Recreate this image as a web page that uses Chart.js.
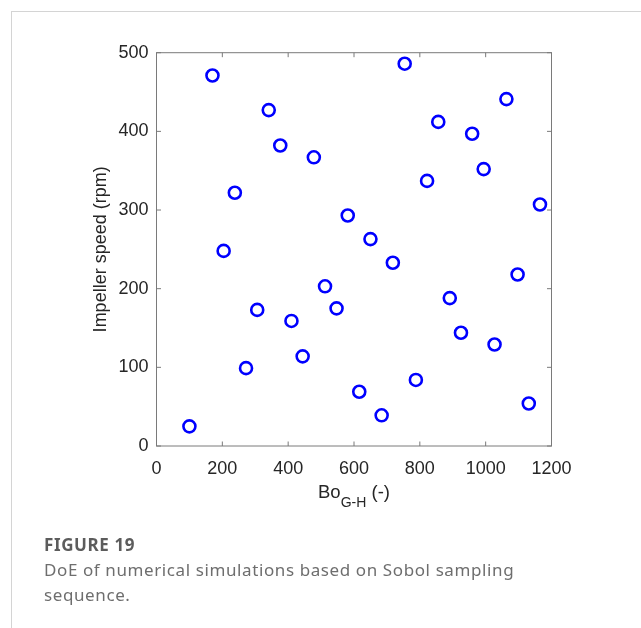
<!DOCTYPE html>
<html>
<head>
<meta charset="utf-8">
<script src="https://cdn.jsdelivr.net/npm/chart.js@4"></script>
<style>
  html, body { margin: 0; padding: 0; background: #fff; }
  body { width: 641px; height: 628px; position: relative; overflow: hidden; }
  .card { position: absolute; left: 11px; top: 11px; width: 640px; height: 640px;
          border-left: 1.5px solid #d4d4d4; border-top: 1.5px solid #d4d4d4; }
  #chart { position: absolute; left: 0; top: 0; }
  .xtitle { position: absolute; left: 254px; width: 200px; top: 481px; text-align: center;
            font-family: "Liberation Sans", Arial, sans-serif; font-size: 18.5px; color: #262626; }
  .xtitle sub { font-size: 14px; vertical-align: -9px; line-height: 0; }
  .caption { position: absolute; left: 44px; top: 533px; font-family: "Noto Sans", sans-serif; letter-spacing: 0.6px; }
  .caption .fig { font-weight: bold; font-size: 17px; color: #5c5c5c; line-height: 24px; }
  .caption .txt { font-size: 17px; color: #6e6e6e; line-height: 25px; }
</style>
</head>
<body>
<div class="card"></div>
<canvas id="chart" width="641" height="628"></canvas>
<div class="xtitle">Bo<sub>G-H</sub> (-)</div>
<div class="caption">
  <div class="fig">FIGURE 19</div>
  <div class="txt">DoE of numerical simulations based on Sobol sampling<br>sequence.</div>
</div>
<script>
// Sobol sample points
const boValues = [100, 170, 204, 238, 272, 306, 341, 376, 410, 444, 478, 512, 547, 581, 616, 650,
                  684, 718, 754, 788, 822, 856, 891, 925, 959, 994, 1027, 1063, 1097, 1131, 1165];
const speedValues = [25, 471, 248, 322, 99, 173, 427, 382, 159, 114, 367, 203, 175, 293, 69, 263,
                     39, 233, 486, 84, 337, 412, 188, 144, 397, 352, 129, 441, 218, 54, 307];
const xTicks = [0, 200, 400, 600, 800, 1000, 1200];
const yTicks = [0, 100, 200, 300, 400, 500];

const points = boValues.map((x, i) => ({ x: x, y: speedValues[i] }));
const axisFont = { family: 'Arial, "Liberation Sans", sans-serif', size: 18 };

// Boxed axes with inward ticks, like the MATLAB original
const framePlugin = {
    id: 'frame',
    beforeDatasetsDraw(chart) {
        const { ctx, chartArea: a, scales } = chart;
        const len = 4.5;
        ctx.save();
        ctx.strokeStyle = '#7a7a7a';
        ctx.lineWidth = 1;
        ctx.strokeRect(a.left, a.top, a.right - a.left, a.bottom - a.top);
        ctx.beginPath();
        xTicks.forEach(v => {
            const px = scales.x.getPixelForValue(v);
            ctx.moveTo(px, a.bottom); ctx.lineTo(px, a.bottom - len);
            ctx.moveTo(px, a.top); ctx.lineTo(px, a.top + len);
        });
        yTicks.forEach(v => {
            const py = scales.y.getPixelForValue(v);
            ctx.moveTo(a.left, py); ctx.lineTo(a.left + len, py);
            ctx.moveTo(a.right, py); ctx.lineTo(a.right - len, py);
        });
        ctx.stroke();
        ctx.restore();
    }
};

new Chart(document.getElementById('chart'), {
    type: 'scatter',
    data: {
        datasets: [{
            data: points,
            pointStyle: 'circle',
            pointRadius: 6,
            pointHoverRadius: 6,
            pointBorderWidth: 2.6,
            borderColor: '#0000ff',
            backgroundColor: 'rgba(0,0,0,0)'
        }]
    },
    options: {
        responsive: false,
        animation: false,
        layout: { padding: { top: 52.7, right: 89.5, left: 0, bottom: 0 } },
        plugins: { legend: { display: false }, tooltip: { enabled: false } },
        scales: {
            x: {
                type: 'linear',
                min: 0, max: 1200,
                afterBuildTicks: s => { s.ticks = xTicks.map(v => ({ value: v })); },
                ticks: { font: axisFont, color: '#262626', padding: 4, maxRotation: 0,
                         callback: v => String(v) },
                grid: { display: false },
                border: { display: false },
                afterFit: s => { s.height = 182; }
            },
            y: {
                type: 'linear',
                min: 0, max: 500,
                afterBuildTicks: s => { s.ticks = yTicks.map(v => ({ value: v })); },
                ticks: { font: axisFont, color: '#262626', padding: 0,
                         callback: v => String(v) },
                grid: { display: false },
                border: { display: false },
                title: {
                    display: true,
                    text: 'Impeller speed (rpm)',
                    font: axisFont,
                    color: '#262626',
                    padding: { top: 90, bottom: 0 }
                },
                afterFit: s => { s.width = 156.5; }
            }
        }
    },
    plugins: [framePlugin]
});
</script>
</body>
</html>
